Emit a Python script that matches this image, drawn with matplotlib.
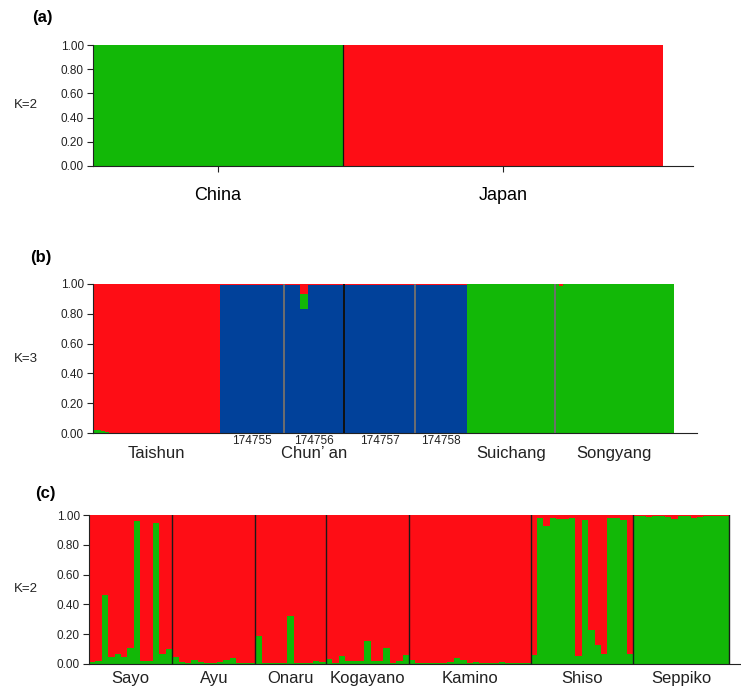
import numpy as np
import matplotlib
matplotlib.use("Agg")
from matplotlib import pyplot as plt

plt.rcParams["font.family"] = ["Liberation Sans", "DejaVu Sans"]

GREEN = "#12b807"
RED = "#fe0d15"
BLUE = "#01419a"

# ---- (a) K=2, China vs Japan
a_groups = ["China", "Japan"]
a_sizes = [78, 100]
a_green = [1.00, 0.00]

# ---- (b) K=3, Chinese populations (Chun'an split into 4 sub-collections)
b_blocks = ["Taishun", "174755", "174756", "174757", "174758", "Suichang", "Songyang"]
b_sizes = [32, 16, 15, 18, 13, 22, 30]
b_labels = ["Taishun", "Chun’ an", "Suichang", "Songyang"]
b_sub = ["174755", "174756", "174757", "174758"]

taishun_green = [0.02, 0.02, 0.012, 0.005, 0, 0, 0, 0, 0, 0, 0, 0, 0, 0, 0, 0,
                 0, 0, 0, 0, 0, 0, 0, 0, 0, 0, 0, 0, 0, 0, 0, 0]
taishun_red = [0.98, 0.98, 0.988, 0.995, 1, 1, 1, 1, 1, 1, 1, 1, 1, 1, 1, 1,
               1, 1, 1, 1, 1, 1, 1, 1, 1, 1, 1, 1, 1, 1, 1, 1]
c174755_green = [0, 0, 0, 0, 0, 0, 0, 0, 0, 0, 0, 0, 0, 0, 0, 0]
c174755_red = [0.005, 0.005, 0.005, 0.005, 0.005, 0.005, 0.005, 0.005,
               0.005, 0.005, 0.005, 0.005, 0.005, 0.005, 0.005, 0.005]
c174756_green = [0, 0, 0, 0, 0.10, 0.10, 0, 0, 0, 0, 0, 0, 0, 0, 0]
c174756_red = [0.005, 0.005, 0.005, 0.005, 0.07, 0.07, 0.005, 0.005,
               0.005, 0.005, 0.005, 0.005, 0.005, 0.005, 0.005]
c174757_green = [0, 0, 0, 0, 0, 0, 0, 0, 0, 0, 0, 0, 0, 0, 0, 0, 0, 0]
c174757_red = [0.005, 0.005, 0.005, 0.005, 0.005, 0.005, 0.005, 0.005, 0.005,
               0.005, 0.005, 0.005, 0.005, 0.005, 0.005, 0.005, 0.005, 0.005]
c174758_green = [0, 0, 0, 0, 0, 0, 0, 0, 0, 0, 0, 0, 0]
c174758_red = [0.005, 0.005, 0.005, 0.005, 0.005, 0.005, 0.005, 0.005,
               0.005, 0.005, 0.005, 0.005, 0.005]
suichang_green = [0.997, 0.997, 0.997, 0.997, 0.997, 0.997, 0.997, 0.997,
                  0.997, 0.997, 0.997, 0.997, 0.997, 0.997, 0.997, 0.997,
                  0.997, 0.997, 0.997, 0.997, 0.997, 0.997]
suichang_red = [0.003, 0.003, 0.003, 0.003, 0.003, 0.003, 0.003, 0.003,
                0.003, 0.003, 0.003, 0.003, 0.003, 0.003, 0.003, 0.003,
                0.003, 0.003, 0.003, 0.003, 0.003, 0.003]
songyang_green = [0.997, 0.985, 0.997, 0.997, 0.997, 0.997, 0.997, 0.997,
                  0.997, 0.997, 0.997, 0.997, 0.997, 0.997, 0.997, 0.997,
                  0.997, 0.997, 0.997, 0.997, 0.997, 0.997, 0.997, 0.997,
                  0.997, 0.997, 0.997, 0.997, 0.997, 0.997]
songyang_red = [0.003, 0.015, 0.003, 0.003, 0.003, 0.003, 0.003, 0.003,
                0.003, 0.003, 0.003, 0.003, 0.003, 0.003, 0.003, 0.003,
                0.003, 0.003, 0.003, 0.003, 0.003, 0.003, 0.003, 0.003,
                0.003, 0.003, 0.003, 0.003, 0.003, 0.003]

# ---- (c) K=2, Japanese populations (green share per individual)
c_groups = ["Sayo", "Ayu", "Onaru", "Kogayano", "Kamino", "Shiso", "Seppiko"]
sayo = [0.013, 0.02, 0.46, 0.05, 0.07, 0.045, 0.105, 0.96, 0.02, 0.02, 0.945, 0.07, 0.10]
ayu = [0.045, 0.016, 0.005, 0.03, 0.013, 0.009, 0.005, 0.011, 0.025, 0.04, 0.007, 0.005, 0.005]
onaru = [0.19, 0.01, 0.007, 0.01, 0.007, 0.32, 0.005, 0.005, 0.009, 0.02, 0.013]
kogayano = [0.036, 0.01, 0.054, 0.022, 0.022, 0.022, 0.157, 0.022, 0.022, 0.11, 0.01, 0.022, 0.06]
kamino = [0.027, 0.005, 0.009, 0.005, 0.005, 0.005, 0.013, 0.04, 0.027, 0.005,
          0.011, 0.005, 0.005, 0.005, 0.011, 0.005, 0.005, 0.005, 0.005]
shiso = [0.06, 0.98, 0.926, 0.978, 0.973, 0.973, 0.978, 0.056, 0.966, 0.23,
         0.13, 0.07, 0.98, 0.978, 0.966, 0.065]
seppiko = [0.99, 0.995, 0.985, 0.99, 0.99, 0.985, 0.97, 0.99, 0.99, 0.98,
           0.985, 0.99, 0.995, 0.99, 0.99]

W, H = 741, 686
fig = plt.figure(figsize=(W / 100, H / 100), dpi=100)


def px_axes(left, top, right, bottom):
    return fig.add_axes([left / W, 1 - bottom / H, (right - left) / W, (bottom - top) / H])


def style_axes(ax, xmax):
    ax.set_xlim(0, xmax)
    ax.set_ylim(0, 1)
    ax.spines["top"].set_visible(False)
    ax.spines["right"].set_visible(False)
    for s in ("left", "bottom"):
        ax.spines[s].set_color("#222222")
        ax.spines[s].set_linewidth(0.8)
    ax.set_yticks([0, 0.2, 0.4, 0.6, 0.8, 1.0])
    ax.set_yticklabels(["%.2f" % v for v in [0, 0.2, 0.4, 0.6, 0.8, 1.0]])
    ax.tick_params(axis="y", length=4.5, width=0.8, color="#222222",
                   labelsize=8.5, labelcolor="#222222", pad=2)


def stack(ax, blue, green, red):
    x = np.arange(len(green))
    ax.bar(x, blue, width=1, align="edge", color=BLUE, linewidth=0)
    ax.bar(x, green, bottom=blue, width=1, align="edge", color=GREEN, linewidth=0)
    ax.bar(x, red, bottom=np.array(blue) + np.array(green), width=1, align="edge",
           color=RED, linewidth=0)


# ---------------- (a)
ax_a = px_axes(93, 45, 693, 166)
a_edges = np.concatenate([[0], np.cumsum(a_sizes)])
a_g = np.array(a_green)
ax_a.bar(a_edges[:-1], a_g, width=a_sizes, align="edge", color=GREEN, linewidth=0)
ax_a.bar(a_edges[:-1], 1 - a_g, bottom=a_g, width=a_sizes, align="edge", color=RED, linewidth=0)
ax_a.axvline(a_edges[1], color="#111111", lw=0.9)
style_axes(ax_a, a_edges[-1] * 600 / 570)
ax_a.set_xticks((a_edges[:-1] + a_edges[1:]) / 2)
ax_a.set_xticklabels(a_groups, fontsize=13)
ax_a.tick_params(axis="x", length=4, width=0.8, color="#222222", pad=11)

# ---------------- (b)
ax_b = px_axes(93, 284, 697, 433)
b_green = np.array(taishun_green + c174755_green + c174756_green + c174757_green
                   + c174758_green + suichang_green + songyang_green)
b_red = np.array(taishun_red + c174755_red + c174756_red + c174757_red
                 + c174758_red + suichang_red + songyang_red)
b_blue = np.clip(1 - b_green - b_red, 0, 1)
stack(ax_b, b_blue, b_green, b_red)
b_edges = np.concatenate([[0], np.cumsum(b_sizes)])
b_sep = [None, "#6e6e6e", "#111111", "#6e6e6e", None, "#6e6e6e"]
for edge, col in zip(b_edges[1:-1], b_sep):
    if col:
        ax_b.axvline(edge, color=col, lw=1.4)
style_axes(ax_b, b_edges[-1] * 604 / 581)
ax_b.set_xticks([])
tr = ax_b.get_xaxis_transform()
b_mid = (b_edges[:-1] + b_edges[1:]) / 2
for i, lab in enumerate(b_sub):
    ax_b.text(b_mid[i + 1], -0.012, lab, transform=tr, ha="center", va="top",
              fontsize=8.5, color="#222222")
# Chun'an label sits under its second sub-collection, as in the original
b_label_x = [b_mid[0], b_mid[2], b_mid[5], b_mid[6]]
for x, lab in zip(b_label_x, b_labels):
    ax_b.text(x, -0.085, lab, transform=tr, ha="center", va="top",
              fontsize=12, color="#222222")

# ---------------- (c)
ax_c = px_axes(89, 515, 741, 664)
c_data = [sayo, ayu, onaru, kogayano, kamino, shiso, seppiko]
c_green = np.array(sum(c_data, []))
stack(ax_c, np.zeros_like(c_green), c_green, 1 - c_green)
c_sizes = [len(g) for g in c_data]
c_edges = np.concatenate([[0], np.cumsum(c_sizes)])
for edge in c_edges[1:]:
    ax_c.axvline(edge, color="#1a1a1a", lw=1.0)
style_axes(ax_c, c_edges[-1] * 652 / 640)
ax_c.set_xticks([])
tr = ax_c.get_xaxis_transform()
for x, lab in zip((c_edges[:-1] + c_edges[1:]) / 2, c_groups):
    ax_c.text(x, -0.045, lab, transform=tr, ha="center", va="top",
              fontsize=12, color="#222222")

# panel letters and K labels
for lab, x, y in [("(a)", 32, 10), ("(b)", 30, 250), ("(c)", 35, 486)]:
    fig.text(x / W, 1 - y / H, lab, fontsize=12, fontweight="bold", va="top", ha="left")
for lab, ax in [("K=2", ax_a), ("K=3", ax_b), ("K=2", ax_c)]:
    pos = ax.get_position()
    fig.text(38 / W, pos.y0 + pos.height / 2, lab, fontsize=9.5, ha="right", va="center",
             color="#222222")

fig.savefig("out.png", dpi=100)
